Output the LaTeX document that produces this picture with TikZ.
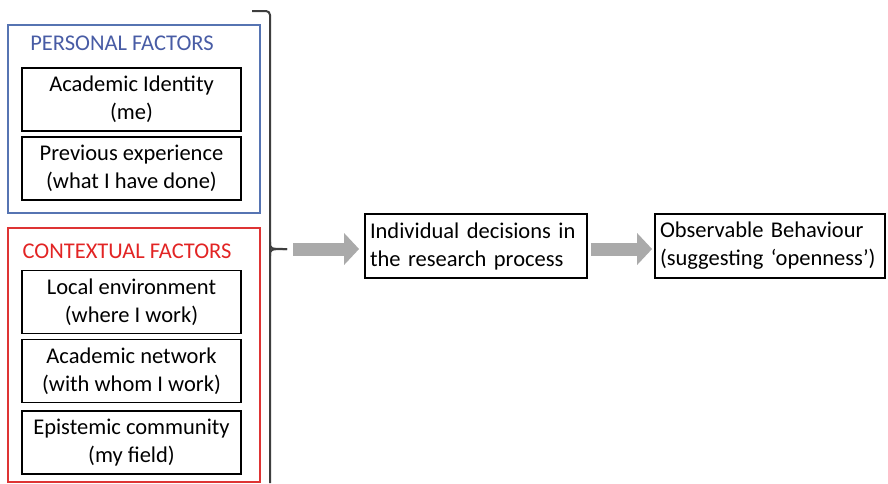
\documentclass[tikz,border=0pt]{standalone}
\usepackage{fontspec}
\setmainfont{Carlito}
\usepackage{tikz}
\usepackage{xcolor}
\usetikzlibrary{arrows.meta,positioning,calc}
\definecolor{grpblue}{RGB}{86,116,178}
\definecolor{grpbluetext}{RGB}{72,92,165}
\definecolor{grpred}{RGB}{222,52,52}
\definecolor{grpredtext}{RGB}{226,36,36}
\definecolor{flowgray}{RGB}{170,170,170}
\definecolor{braceink}{RGB}{62,62,62}
\tikzset{
  factorBox/.style={draw=black, line width=1.8pt, minimum width=219pt, minimum height=63pt, align=center, inner sep=2pt, font=\fontsize{22.5}{28}\selectfont},
  stageBox/.style={draw=black, line width=1.8pt, minimum height=64pt, align=left, inner sep=2pt, font=\fontsize{22.5}{28}\selectfont},
  groupBox/.style={draw=#1, line width=1.5pt, inner sep=0pt},
  groupTitle/.style={font=\fontsize{22.5}{28}\selectfont, text=#1, inner sep=0pt},
  braceLine/.style={draw=braceink, line width=2pt, rounded corners=4pt},
  flowArrow/.style={-{Triangle[length=15pt 0 0, width=31pt 0 0]}, line width=13pt, draw=flowgray}
}
\begin{document}
\begin{tikzpicture}[x=1pt, y=-1pt]
  \useasboundingbox (0,0) rectangle (888,483);
  % factor groups
  \node[groupBox=grpblue, minimum width=252pt, minimum height=188pt] (personal) at (134,119) {};
  \node[groupBox=grpred, minimum width=252pt, minimum height=254pt] (contextual) at (134,355) {};
  \node[groupTitle=grpbluetext] (personalTitle) at (122,43) {PERSONAL FACTORS};
  \node[groupTitle=grpredtext] (contextTitle) at (127,251) {CONTEXTUAL FACTORS};

  \node[factorBox] (identity) at (131.5,99.5) {Academic Identity\\(me)};
  \node[factorBox] (experience) at (131.5,168.5) {Previous experience\\(what I have done)};
  \node[factorBox] (local) at (131.5,302) {Local environment\\(where I work)};
  \node[factorBox] (network) at (131.5,371) {Academic network\\(with whom I work)};
  \node[factorBox] (epistemic) at (131.5,442.5) {Epistemic community\\(my field)};

  % brace round both groups
  \draw[braceLine] (252,11) -- (270,11) -- (270,483);
  \coordinate (braceTip) at (287,249);
  \draw[draw=braceink, line width=2pt] (270,242) .. controls (270,249) .. (braceTip);
  \draw[draw=braceink, line width=2pt] (270,256) .. controls (270,249) .. (braceTip);

  % decision and behaviour
  \node[stageBox, minimum width=222pt, text width=212pt] (decisions) at (476,246) {Individual decisions in\\the research process};
  \node[stageBox, minimum width=230pt, text width=220pt] (behaviour) at (770,246) {Observable Behaviour\\(suggesting `openness')};

  \draw[flowArrow, shorten <=6pt, shorten >=5pt] (braceTip) -- (braceTip -| decisions.west);
  \draw[flowArrow, shorten <=3pt, shorten >=2pt] (braceTip -| decisions.east) -- (braceTip -| behaviour.west);
\end{tikzpicture}
\end{document}
